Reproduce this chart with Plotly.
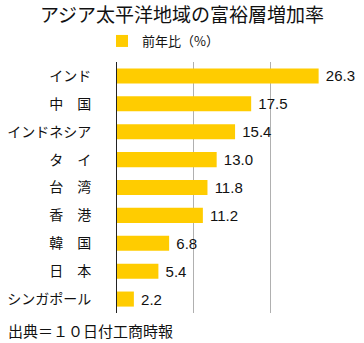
import plotly.graph_objects as go

categories = ["インド", "中　国", "インドネシア", "タ　イ", "台　湾", "香　港", "韓　国", "日　本", "シンガポール"]
values = [26.3, 17.5, 15.4, 13.0, 11.8, 11.2, 6.8, 5.4, 2.2]
value_labels = ["26.3", "17.5", "15.4", "13.0", "11.8", "11.2", "6.8", "5.4", "2.2"]
series_name = "前年比（%）"
title_text = "アジア太平洋地域の富裕層増加率"
source_text = "出典＝１０日付工商時報"

FONT = "Noto Sans CJK JP, Noto Sans, sans-serif"

fig = go.Figure()
fig.add_trace(go.Bar(
    y=categories, x=values, orientation="h", name=series_name,
    marker=dict(color="#FFCC00", line=dict(width=0)),
    width=0.54,
    text=value_labels, texttemplate="\u00a0%{text}",
    textposition="outside", cliponaxis=False,
    constraintext="none",
    textfont=dict(size=15, color="#111111", family="Liberation Sans, Arial, sans-serif"),
    showlegend=True,
))

fig.update_layout(
    width=364, height=343,
    margin=dict(l=117, r=17, t=62, b=30, autoexpand=False),
    paper_bgcolor="white", plot_bgcolor="white",
    font=dict(family=FONT, color="#111111"),
    title=dict(text=title_text, x=0.5, xanchor="center", y=1 - 15/343, yanchor="middle",
               font=dict(size=19, family=FONT, color="#111111")),
    legend=dict(orientation="h", x=-15/230, xanchor="left", y=1 + 21/251, yanchor="middle",
                font=dict(size=13, family=FONT), bgcolor="rgba(0,0,0,0)"),
    xaxis=dict(range=[0, 30], dtick=10, showgrid=True, gridcolor="#B0B0B0", gridwidth=1,
               showticklabels=False, zeroline=False, showline=False, ticks="",
               automargin=False),
    yaxis=dict(autorange="reversed", showline=True, linecolor="#222222", linewidth=1,
               ticks="", tickfont=dict(size=14, family=FONT, color="#111111"),
               ticklabelstandoff=22, automargin=False),
    annotations=[dict(text=source_text, xref="paper", yref="paper",
                      x=-111/230, xanchor="left", y=-17/251, yanchor="middle",
                      showarrow=False, font=dict(size=15, family=FONT, color="#111111"))],
    bargap=0.46,
)

fig.write_html("out.html")
